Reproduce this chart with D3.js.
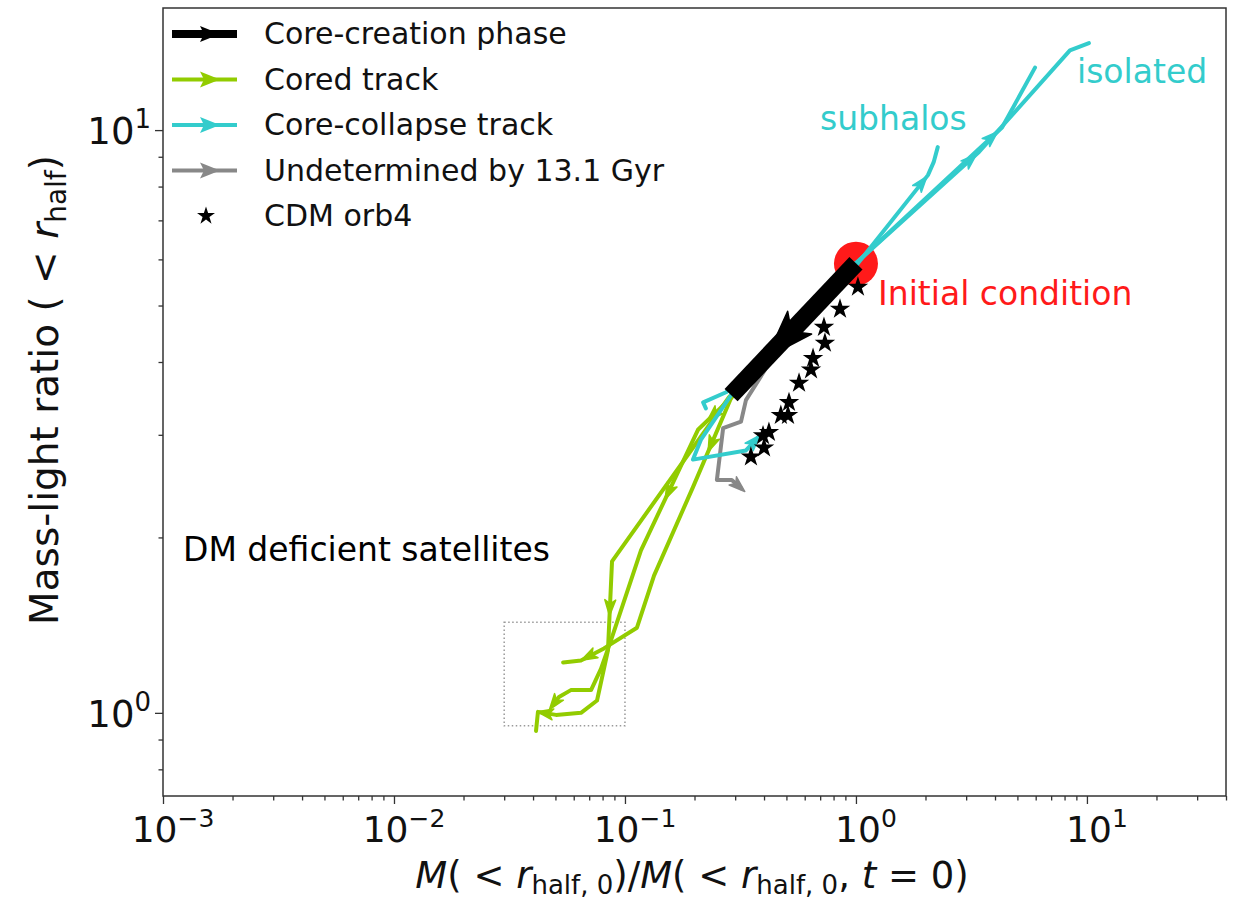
<!DOCTYPE html>
<html>
<head>
<meta charset="utf-8">
<script src="https://cdn.jsdelivr.net/npm/d3@7"></script>
<style>
body { margin: 0; background: #fff; }
text { font-family: "DejaVu Sans", sans-serif; }
</style>
</head>
<body>
<svg width="1233" height="904"></svg>
<script>
var width = 1233, height = 904;
var margin = {left: 163, right: 7, top: 8, bottom: 108};

var xDomain = [0.001, 40];
var yDomain = [0.72, 16.2];
var xTickVals = [1e-3, 1e-2, 1e-1, 1, 10];
var xTickExp = ['\u22123', '\u22122', '\u22121', '0', '1'];
var yTickVals = [1, 10];
var yTickExp = ['0', '1'];

var initial = [1, 5.9];
var corePhase = [[1, 5.91], [0.288, 3.51]];

// [x, y] points along each track
var coredTracks = [
  [[0.971, 5.75], [0.282, 3.48], [0.0879, 1.82], [0.0844, 1.28], [0.0757, 1.05], [0.0645, 1.0], [0.0503, 0.992], [0.042, 1.004], [0.0412, 0.931]],
  [[0.971, 5.75], [0.288, 3.47], [0.207, 3.06], [0.1173, 1.90], [0.0869, 1.33], [0.0787, 1.19], [0.0713, 1.094], [0.0583, 1.094], [0.0518, 1.065], [0.0488, 1.032]],
  [[0.971, 5.75], [0.288, 3.47], [0.197, 2.44], [0.1336, 1.72], [0.1127, 1.40], [0.0811, 1.29], [0.0645, 1.23], [0.054, 1.22]]
];
// [segment, fraction along it]
var coredArrows = [[[2, 0.5], [6, 0.5]], [[1, 0.5], [2, 0.5], [8, 0.6]], [[1, 0.5], [5, 0.6]]];

var collapseTracks = [
  [[1, 5.91], [3.41, 9.17], [8.44, 13.7], [10.2, 14.1]],
  [[1, 5.91], [4.29, 10.1], [5.96, 12.8]],
  [[1, 5.85], [2.05, 8.37], [2.17, 8.81], [2.26, 9.35]],
  [[1, 5.91], [0.274, 3.55], [0.218, 3.41], [0.224, 3.33]],
  [[1, 5.91], [0.288, 3.51], [0.213, 2.94], [0.197, 2.72], [0.334, 2.82], [0.377, 2.97]]
];
var collapseArrows = [[[0, 0.92]], [[0, 0.92]], [[0, 0.9]], [], [[4, 0.6]]];

var undetTracks = [
  [[0.951, 5.80], [0.429, 4.03], [0.334, 3.44], [0.318, 3.16], [0.266, 3.08], [0.25, 2.51], [0.29, 2.51], [0.318, 2.43]]
];
var undetArrows = [[[0, 0.5], [6, 0.6]]];

var cdmX = [1.02, 0.853, 0.727, 0.734, 0.652, 0.639, 0.567, 0.513, 0.473, 0.508, 0.42, 0.396, 0.40, 0.351];
var cdmY = [5.38, 4.93, 4.59, 4.31, 4.06, 3.88, 3.68, 3.41, 3.24, 3.24, 3.03, 2.99, 2.85, 2.75];

var boxX = [0.03, 0.1];
var boxY = [0.95, 1.43];

var legendLabels = ['Core-creation phase', 'Cored track', 'Core-collapse track', 'Undetermined by 13.1 Gyr', 'CDM orb4'];
var green = '#92cc00', cyan = '#33cccc', gray = '#888888';

var svg = d3.select('svg');
var x = d3.scaleLog().domain(xDomain).range([margin.left, width - margin.right]);
var y = d3.scaleLog().domain(yDomain).range([height - margin.bottom, margin.top]);

svg.append('clipPath').attr('id', 'c').append('rect')
  .attr('x', margin.left).attr('y', margin.top)
  .attr('width', width - margin.left - margin.right).attr('height', height - margin.top - margin.bottom);
var plot = svg.append('g').attr('clip-path', 'url(#c)');

var line = d3.line().x(function (d) { return x(d[0]); }).y(function (d) { return y(d[1]); });

// dotted box
plot.append('rect')
  .attr('x', x(boxX[0])).attr('y', y(boxY[1]))
  .attr('width', x(boxX[1]) - x(boxX[0])).attr('height', y(boxY[0]) - y(boxY[1]))
  .attr('fill', 'none').attr('stroke', '#999').attr('stroke-width', 1.5).attr('stroke-dasharray', '1.5,2.5');

// initial condition
plot.append('circle').attr('cx', x(initial[0])).attr('cy', y(initial[1])).attr('r', 22).attr('fill', '#ff1a1a');

function arrowHead (g, p0, p1, f, color, size) {
  var x0 = x(p0[0]), y0 = y(p0[1]), x1 = x(p1[0]), y1 = y(p1[1]);
  var ax = x0 + (x1 - x0) * f, ay = y0 + (y1 - y0) * f;
  var ang = Math.atan2(y1 - y0, x1 - x0) * 180 / Math.PI;
  g.append('path')
    .attr('d', 'M' + size + ',0 L' + (-size * 0.6) + ',' + (-size * 0.55) + ' L' + (-size * 0.2) + ',0 L' + (-size * 0.6) + ',' + (size * 0.55) + 'Z')
    .attr('fill', color).attr('stroke', color).attr('stroke-width', 1.5).attr('stroke-linejoin', 'round')
    .attr('transform', 'translate(' + ax + ',' + ay + ') rotate(' + ang + ')');
}

function drawTracks (tracks, arrows, color) {
  tracks.forEach(function (t, i) {
    plot.append('path').attr('d', line(t)).attr('fill', 'none')
      .attr('stroke', color).attr('stroke-width', 4).attr('stroke-linejoin', 'round').attr('stroke-linecap', 'round');
    (arrows[i] || []).forEach(function (a) { arrowHead(plot, t[a[0]], t[a[0] + 1], a[1], color, 10); });
  });
}

drawTracks(coredTracks, coredArrows, green);
drawTracks(undetTracks, undetArrows, gray);
drawTracks(collapseTracks, collapseArrows, cyan);

// core creation phase
plot.append('path').attr('d', line(corePhase)).attr('stroke', '#000').attr('stroke-width', 18).attr('fill', 'none');
arrowHead(plot, corePhase[0], corePhase[1], 0.55, '#000', 30);

var star = d3.symbol().type(d3.symbolStar).size(130);
plot.selectAll('path.star').data(cdmX).enter().append('path')
  .attr('class', 'star').attr('d', star).attr('fill', '#000')
  .attr('transform', function (d, i) { return 'translate(' + x(d) + ',' + y(cdmY[i]) + ')'; });

// annotations
function note (tx, ty, str, color) {
  svg.append('text').attr('x', tx).attr('y', ty).attr('font-size', 33).attr('fill', color).text(str);
}
note(183, 561, 'DM deficient satellites', '#000');
note(820, 130, 'subhalos', cyan);
note(1077, 83, 'isolated', cyan);
note(878, 305, 'Initial condition', '#ff1a1a');

// frame
svg.append('rect').attr('x', margin.left).attr('y', margin.top)
  .attr('width', width - margin.left - margin.right).attr('height', height - margin.top - margin.bottom)
  .attr('fill', 'none').attr('stroke', '#333').attr('stroke-width', 1.5);

// axes
var xAxis = svg.append('g').attr('transform', 'translate(0,' + (height - margin.bottom) + ')')
  .call(d3.axisBottom(x).ticks(10).tickFormat('').tickSizeOuter(0));
xAxis.selectAll('.tick line').attr('y2', function (d) { return xTickVals.indexOf(d) >= 0 ? 8 : 4.5; })
  .attr('stroke', '#333').attr('stroke-width', 1.3);
xAxis.select('.domain').remove();
var yAxis = svg.append('g').attr('transform', 'translate(' + margin.left + ',0)')
  .call(d3.axisLeft(y).ticks(10).tickFormat('').tickSizeOuter(0));
yAxis.selectAll('.tick line').attr('x2', function (d) { return yTickVals.indexOf(d) >= 0 ? -8 : -4.5; })
  .attr('stroke', '#333').attr('stroke-width', 1.3);
yAxis.select('.domain').remove();

xTickVals.forEach(function (v, i) {
  var t = svg.append('text').attr('x', x(v) + 10).attr('y', height - margin.bottom + 46)
    .attr('text-anchor', 'middle').attr('font-size', 36).attr('fill', '#111');
  t.append('tspan').text('10');
  t.append('tspan').attr('font-size', 25).attr('dy', -15).text(xTickExp[i]);
});
yTickVals.forEach(function (v, i) {
  var t = svg.append('text').attr('x', margin.left - 12).attr('y', y(v) + 14)
    .attr('text-anchor', 'end').attr('font-size', 37).attr('fill', '#111');
  t.append('tspan').text('10');
  t.append('tspan').attr('font-size', 26).attr('dy', -16).text(yTickExp[i]);
});

// axis titles
var xl = svg.append('text').attr('x', 692).attr('y', 888).attr('text-anchor', 'middle')
  .attr('font-size', 37).attr('fill', '#111');
xl.append('tspan').attr('font-style', 'italic').text('M');
xl.append('tspan').text('( < ');
xl.append('tspan').attr('font-style', 'italic').text('r');
xl.append('tspan').attr('font-size', 26).attr('dy', 6).text('half, 0');
xl.append('tspan').attr('dy', -6).text(')/');
xl.append('tspan').attr('font-style', 'italic').text('M');
xl.append('tspan').text('( < ');
xl.append('tspan').attr('font-style', 'italic').text('r');
xl.append('tspan').attr('font-size', 26).attr('dy', 6).text('half, 0');
xl.append('tspan').attr('dy', -6).text(', ');
xl.append('tspan').attr('font-style', 'italic').text('t');
xl.append('tspan').text(' = 0)');

var yl = svg.append('text').attr('transform', 'translate(58,390) rotate(-90)').attr('text-anchor', 'middle')
  .attr('font-size', 39).attr('fill', '#111');
yl.append('tspan').text('Mass-light ratio ( < ');
yl.append('tspan').attr('font-style', 'italic').text('r');
yl.append('tspan').attr('font-size', 28).attr('dy', 8).text('half');
yl.append('tspan').attr('dy', -8).text(')');

// legend
var legColors = ['#000', green, cyan, gray, '#000'];
var legWidths = [8, 4, 4, 4, 0];
legendLabels.forEach(function (lab, i) {
  var ly = 34 + i * 45.5;
  var g = svg.append('g');
  if (i < 4) {
    g.append('line').attr('x1', 172).attr('x2', 237).attr('y1', ly).attr('y2', ly)
      .attr('stroke', legColors[i]).attr('stroke-width', legWidths[i]);
    g.append('path').attr('d', 'M14,0 L-6,-8 L-2,0 L-6,8Z').attr('fill', legColors[i])
      .attr('transform', 'translate(' + 206 + ',' + ly + ')');
  } else {
    g.append('path').attr('d', d3.symbol().type(d3.symbolStar).size(100)).attr('fill', '#000')
      .attr('transform', 'translate(206,' + ly + ')');
  }
  g.append('text').attr('x', 264).attr('y', ly + 10).attr('font-size', 30).attr('fill', '#111').text(lab);
});
</script>
</body>
</html>
